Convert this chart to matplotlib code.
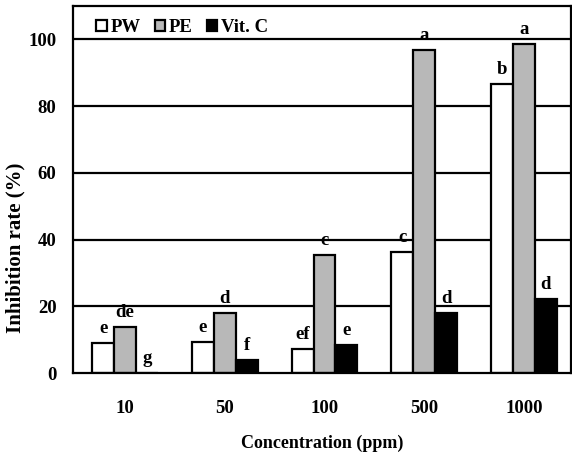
import numpy as np
import matplotlib
matplotlib.use('Agg')
import matplotlib.pyplot as plt

plt.rcParams['font.family'] = 'Liberation Serif'
plt.rcParams['font.weight'] = 'bold'

# concentracoes e series
concentracoes = ['10', '50', '100', '500', '1000']
series = ['PW', 'PE', 'Vit. C']
pw = [9.1, 9.4, 7.1, 36.2, 86.5]
pe = [13.8, 18.1, 35.3, 96.7, 98.5]
vitc = [0.0, 3.8, 8.4, 17.9, 22.2]
letras_pw = ['e', 'e', 'ef', 'c', 'b']
letras_pe = ['de', 'd', 'c', 'a', 'a']
letras_vitc = ['g', 'f', 'e', 'd', 'd']

cores = ['white', '#b8b8b8', 'black']
valores = [pw, pe, vitc]
letras = [letras_pw, letras_pe, letras_vitc]

fig = plt.figure(figsize=(5.72, 4.54), dpi=100)
ax = fig.add_axes([0.128, 0.178, 0.870, 0.809])

x = np.arange(len(concentracoes))
largura = 0.22

for y in [20, 40, 60, 80, 100]:
    ax.axhline(y, color='black', lw=1.6, zorder=1)

for i in range(3):
    pos = x + (i - 1) * largura
    ax.bar(pos, valores[i], largura, color=cores[i], edgecolor='black',
           lw=1.6, label=series[i], zorder=2)
    for p, v, l in zip(pos, valores[i], letras[i]):
        ax.text(p, v + 1.8, l, ha='center', va='bottom', fontsize=13.5,
                fontweight='bold', zorder=3)

ax.set_xlim(-0.52, 4.47)
ax.set_ylim(0, 110)
ax.set_yticks([0, 20, 40, 60, 80, 100])
ax.set_xticks(x)
ax.set_xticklabels(concentracoes)
ax.tick_params(axis='x', length=0, pad=19, labelsize=13.5)
ax.tick_params(axis='y', length=0, pad=12, labelsize=13.5)
for s in ax.spines.values():
    s.set_linewidth(1.6)

ax.set_ylabel('Inhibition rate (%)', fontsize=15, fontweight='bold')
ax.yaxis.set_label_coords(-0.096, 0.34)
ax.set_xlabel('Concentration (ppm)', fontsize=13, fontweight='bold', labelpad=13)

ax.legend(loc='upper left', bbox_to_anchor=(0.02, 1.0), ncol=3, frameon=False,
          handlelength=0.55, handleheight=0.55, handletextpad=0.2,
          columnspacing=0.75, fontsize=13.5, borderaxespad=0.3)

fig.savefig('out.png', dpi=100)
